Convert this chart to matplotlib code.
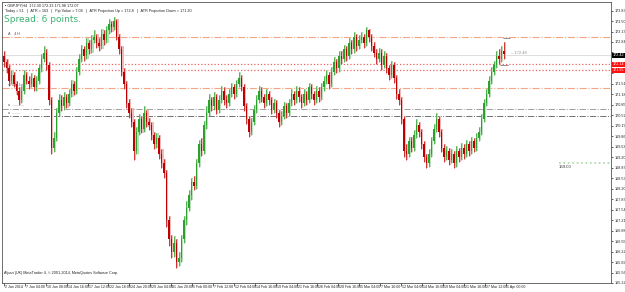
import numpy as np
import matplotlib
matplotlib.use("Agg")
import matplotlib.pyplot as plt
from matplotlib.transforms import blended_transform_factory

plt.rcParams["font.family"] = ["Liberation Sans Narrow", "Liberation Sans", "DejaVu Sans"]

# GBPJPY H4 candles (open = previous close)
first_open = 172.40
closes = [
    172.20, 172.00, 171.60, 171.80, 171.50, 171.30, 171.00, 171.30, 171.80, 171.60, 171.50, 171.70,
    171.40, 171.60, 172.00, 172.30, 172.50, 172.10, 171.00, 169.50, 169.80, 170.60, 171.00, 170.80,
    171.10, 170.90, 171.20, 171.50, 171.30, 171.90, 172.30, 172.60, 172.40, 172.80, 172.60, 172.90,
    173.00, 172.80, 172.70, 173.10, 172.90, 173.20, 173.40, 173.30, 173.50, 173.00, 172.60, 171.90,
    171.50, 170.90, 170.60, 170.30, 169.40, 170.00, 170.40, 170.10, 170.60, 170.30, 170.20, 169.90,
    169.60, 169.80, 169.30, 169.00, 168.70, 167.20, 166.60, 166.20, 166.50, 165.90, 166.00, 166.60,
    167.20, 167.60, 168.00, 168.40, 168.30, 169.00, 169.60, 169.40, 170.20, 170.60, 171.00, 170.80,
    171.10, 170.70, 171.00, 171.30, 171.00, 170.90, 171.20, 171.40, 171.20, 171.50, 171.70, 171.40,
    170.80, 170.40, 170.00, 170.30, 170.70, 171.00, 171.30, 171.10, 170.90, 171.20, 171.00, 170.70,
    170.90, 170.60, 170.30, 170.50, 170.80, 170.60, 170.90, 171.20, 171.00, 171.30, 171.10, 170.90,
    171.20, 171.00, 171.40, 171.20, 171.00, 171.30, 171.10, 171.40, 171.60, 171.80, 171.50, 171.90,
    172.20, 172.00, 172.40, 172.30, 172.60, 172.40, 172.80, 172.60, 173.00, 172.70, 172.90, 173.00,
    172.80, 173.20, 173.00, 172.70, 172.50, 172.30, 172.50, 172.10, 172.40, 172.00, 171.80, 172.10,
    171.70, 171.20, 171.00, 170.40, 169.40, 169.30, 169.70, 169.50, 169.90, 170.20, 170.00, 169.60,
    169.20, 169.00, 169.30, 169.70, 170.10, 170.40, 170.00, 169.50, 169.20, 169.40, 169.10, 169.30,
    169.00, 169.40, 169.20, 169.50, 169.30, 169.60, 169.40, 169.70, 169.50, 169.80, 170.00, 170.40,
    170.90, 171.20, 171.60, 171.90, 172.10, 172.40, 172.30, 172.55, 172.45,
]
highs = [
    172.55, 172.30, 172.10, 171.95, 171.90, 171.60, 171.40, 171.45, 171.95, 171.90, 171.75, 171.85,
    171.80, 171.75, 172.15, 172.45, 172.70, 172.60, 172.20, 171.10, 170.00, 170.75, 171.20, 171.15,
    171.25, 171.20, 171.35, 171.65, 171.60, 172.05, 172.45, 172.75, 172.70, 172.95, 172.90, 173.05,
    173.20, 173.10, 172.95, 173.25, 173.20, 173.35, 173.55, 173.50, 173.62, 173.55, 173.10, 172.70,
    172.00, 171.60, 171.05, 170.75, 170.40, 170.15, 170.55, 170.50, 170.80, 170.70, 170.45, 170.30,
    170.00, 169.95, 169.90, 169.45, 169.15, 168.80, 167.35, 166.75, 166.70, 166.60, 166.20, 166.75,
    167.35, 167.80, 168.15, 168.55, 168.60, 169.15, 169.75, 169.80, 170.35, 170.80, 171.20, 171.10,
    171.25, 171.20, 171.15, 171.45, 171.40, 171.15, 171.35, 171.55, 171.50, 171.65, 171.90, 171.80,
    171.50, 170.90, 170.50, 170.45, 170.85, 171.15, 171.45, 171.40, 171.20, 171.35, 171.30, 171.10,
    171.05, 171.00, 170.70, 170.65, 170.95, 170.90, 171.05, 171.35, 171.30, 171.45, 171.40, 171.20,
    171.35, 171.30, 171.55, 171.50, 171.30, 171.45, 171.40, 171.55, 171.75, 171.95, 171.90, 172.05,
    172.35, 172.30, 172.55, 172.55, 172.75, 172.70, 172.95, 172.90, 173.15, 173.10, 173.05, 173.15,
    173.10, 173.32, 173.25, 173.10, 172.85, 172.60, 172.65, 172.60, 172.55, 172.50, 172.10, 172.25,
    172.20, 171.80, 171.35, 171.10, 170.50, 169.60, 169.85, 169.85, 170.05, 170.40, 170.30, 170.10,
    169.70, 169.30, 169.45, 169.85, 170.25, 170.60, 170.50, 170.10, 169.60, 169.55, 169.50, 169.45,
    169.40, 169.55, 169.50, 169.65, 169.60, 169.75, 169.70, 169.85, 169.80, 169.95, 170.15, 170.55,
    171.05, 171.35, 171.75, 172.05, 172.25, 172.55, 172.60, 172.70, 172.85,
]
lows = [
    172.05, 171.85, 171.45, 171.50, 171.40, 171.15, 170.85, 170.90, 171.20, 171.50, 171.35, 171.40,
    171.30, 171.30, 171.50, 171.90, 172.20, 171.95, 170.85, 169.30, 169.35, 169.70, 170.50, 170.65,
    170.70, 170.75, 170.80, 171.10, 171.15, 171.20, 171.80, 172.20, 172.25, 172.30, 172.45, 172.50,
    172.80, 172.65, 172.55, 172.60, 172.75, 172.80, 173.10, 173.15, 173.20, 172.90, 172.45, 171.75,
    171.35, 170.75, 170.45, 170.15, 169.10, 169.30, 169.90, 169.95, 170.00, 170.15, 170.05, 169.75,
    169.45, 169.50, 169.15, 168.85, 168.55, 167.00, 166.40, 166.00, 166.05, 165.70, 165.75, 165.90,
    166.50, 167.05, 167.50, 167.85, 168.15, 168.20, 168.90, 169.25, 169.30, 170.10, 170.50, 170.65,
    170.70, 170.55, 170.60, 170.90, 170.85, 170.75, 170.80, 171.10, 171.05, 171.10, 171.40, 171.30,
    170.65, 170.25, 169.85, 169.90, 170.20, 170.60, 170.90, 170.95, 170.75, 170.80, 170.85, 170.55,
    170.60, 170.45, 170.15, 170.20, 170.40, 170.45, 170.50, 170.80, 170.85, 170.90, 170.95, 170.75,
    170.80, 170.85, 170.90, 171.05, 170.85, 170.90, 170.95, 171.00, 171.30, 171.50, 171.35, 171.40,
    171.80, 171.85, 171.90, 172.15, 172.20, 172.25, 172.30, 172.45, 172.50, 172.55, 172.60, 172.80,
    172.65, 172.70, 172.85, 172.55, 172.35, 172.15, 172.20, 171.95, 172.00, 171.85, 171.65, 171.70,
    171.55, 171.05, 170.85, 170.25, 169.20, 169.10, 169.20, 169.35, 169.40, 169.80, 169.85, 169.45,
    169.05, 168.85, 168.90, 169.20, 169.60, 170.00, 169.85, 169.35, 169.05, 169.10, 168.95, 169.00,
    168.85, 168.90, 169.05, 169.10, 169.15, 169.20, 169.25, 169.30, 169.35, 169.40, 169.70, 169.90,
    170.30, 170.80, 171.10, 171.50, 171.80, 172.00, 172.15, 172.20, 172.30,
]

# horizontal levels: (price, colour, style, width)
levels = [
    (173.00, "#f4a582", "-.", 0.8),   # ATR projection up
    (172.42, "#d8d8d8", "-", 0.6),    # current price
    (172.14, "#f06060", ":", 0.9),
    (171.95, "#f06060", ":", 0.9),
    (171.38, "#f4a582", "-.", 0.8),   # ATR projection down
    (170.73, "#a0a0a0", "-.", 0.7),
    (170.49, "#707070", "-.", 0.7),
]
level_169 = 169.00
box_prices = [172.42, 172.14, 171.95]

tick_labels = ["2 Jan 2014", "7 Jan 04:00", "10 Jan 08:00", "14 Jan 16:00", "17 Jan 12:00",
               "22 Jan 16:00", "24 Jan 20:00", "29 Jan 04:00", "31 Jan 20:00", "5 Feb 00:00",
               "7 Feb 12:00", "12 Feb 04:00", "14 Feb 16:00", "19 Feb 04:00", "21 Feb 16:00",
               "26 Feb 04:00", "28 Feb 16:00", "5 Mar 04:00", "7 Mar 16:00", "12 Mar 04:00",
               "14 Mar 16:00", "19 Mar 04:00", "21 Mar 16:00", "27 Mar 12:00", "1 Apr 00:00"]

opens = [first_open] + closes[:-1]
n = len(closes)
idx = np.arange(n)
small = 2.7

fig = plt.figure(figsize=(6.25, 2.92), dpi=100)
ax = fig.add_axes([2 / 625, 9 / 292, 609 / 625, 281 / 292])
ax.set_xlim(-0.8, 242.8)
ax.set_ylim(165.51, 174.10)

bull_dark, bull_light = "#2ca02c", "#b8e0b8"
bear_dark, bear_light = "#c00000", "#f2b8b8"

for i in idx:
    o, h, l, c = opens[i], highs[i], lows[i], closes[i]
    up = c >= o
    dark = bull_dark if up else bear_dark
    light = bull_light if up else bear_light
    # light shadow candle behind
    ax.bar(i + 0.35, h - l, bottom=l, width=0.9, color=light, linewidth=0, zorder=1)
    ax.vlines(i, l, h, color=dark, linewidth=0.5, zorder=2)
    ax.bar(i, max(abs(c - o), 0.02), bottom=min(o, c), width=0.45, color=dark,
           linewidth=0, zorder=3)

for price, col, ls, lw in levels:
    ax.axhline(price, color=col, linestyle=ls, linewidth=lw, zorder=0.5)

# short green level on the right with its label
ax.hlines(level_169, 222, 242.8, color="#a8d8a8", linestyle=":", linewidth=1.2)
ax.text(222, level_169 - 0.06, "169.00", fontsize=small + 0.4, va="top", ha="left",
        color="#333333")

# small marks near the last bar
ax.hlines([172.95, 172.10], [199.5, 198.5], [202.5, 201.5], color="#909090", linewidth=0.7)
ax.text(203, 172.48, "\u2013 172.48", fontsize=small + 0.3, color="#909090", va="center")

# tiny labels at the left of the levels
for price, txt in [(173.00, "A    4 H"), (171.38, "\u2248  4 H Lo"),
                   (170.73, "a  ............"), (170.49, "a  ........")]:
    ax.text(1.5, price + 0.04, txt, fontsize=small, color="#555555", va="bottom")

# price axis on the right
ax.yaxis.tick_right()
pticks = 173.83 - 0.331 * np.arange(27)
ax.set_yticks(pticks)
ax.set_yticklabels(["" if min(abs(p - b) for b in box_prices) < 0.14 else f"{p:.2f}"
                    for p in pticks])
ax.tick_params(axis="y", labelsize=small, length=1.5, width=0.5, pad=0.8, colors="#222222")

trans = blended_transform_factory(ax.transAxes, ax.transData)
ax.text(1.003, box_prices[0], f"{box_prices[0]:.2f}", transform=trans, fontsize=small,
        color="white", va="center", ha="left",
        bbox=dict(boxstyle="square,pad=0.12", fc="black", ec="none"))
for p in box_prices[1:]:
    ax.text(1.003, p, f"{p:.2f}", transform=trans, fontsize=small, color="white", va="center",
            ha="left", bbox=dict(boxstyle="square,pad=0.12", fc="#ff1010", ec="none"))

# time axis
tick_pos = np.arange(len(tick_labels)) * 8.36
ax.set_xticks(tick_pos)
ax.set_xticklabels([])
ax.tick_params(axis="x", length=2, width=0.5, colors="#222222")
xtrans = ax.get_xaxis_transform()
for b, lab in zip(tick_pos, tick_labels):
    ax.text(b + 0.5, -0.008, lab, transform=xtrans, fontsize=small - 0.1, va="top",
            ha="left", color="#222222")

for s in ax.spines.values():
    s.set_linewidth(0.6)
    s.set_color("#555555")

# header texts
fig.text(0.008, 0.988, "\u25aa GBPJPY,H4  172.30 172.33 171.98 172.07", fontsize=small,
         va="top", color="#222222")
fig.text(0.008, 0.970,
         "Today = 51   |   ATR = 163   |   Pip Value = 7.04   |   "
         "ATR Projection Up = 172.8   |   ATR Projection Down = 171.20",
         fontsize=small, va="top", color="#222222")
fig.text(0.006, 0.950, "Spread: 6 points.", fontsize=6.5, va="top", color="#3cb371",
         family="DejaVu Sans")
fig.text(0.006, 0.058, "Alpari (UK) MetaTrader 4, \u00a9 2001-2014, MetaQuotes Software Corp.",
         fontsize=small, va="bottom", color="#222222")

fig.savefig("out.png", dpi=100)
